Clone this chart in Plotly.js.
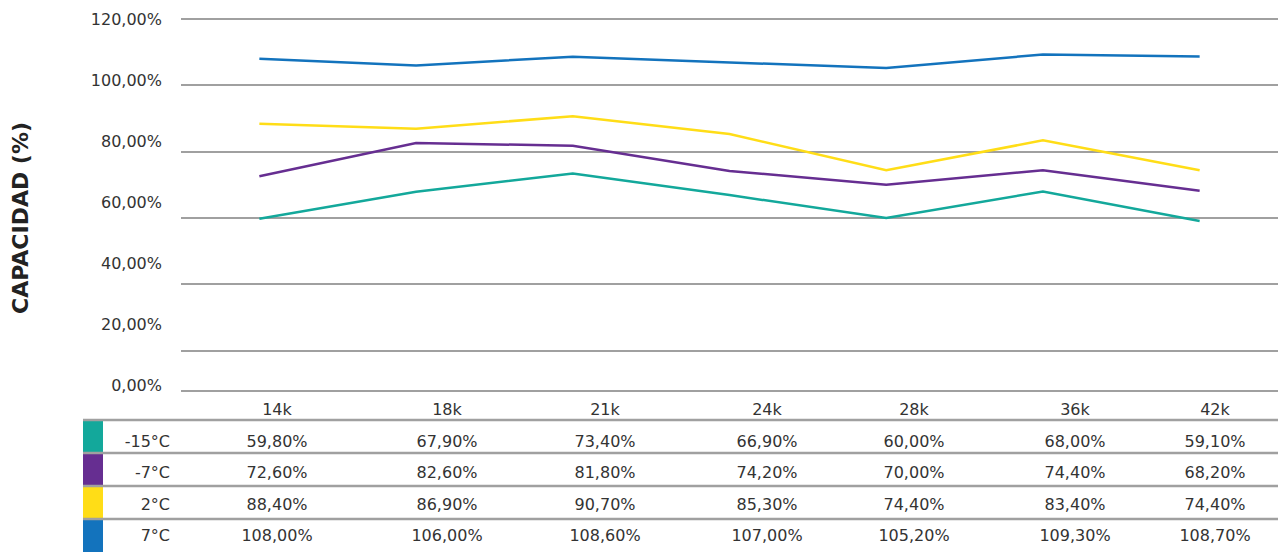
<!DOCTYPE html>
<html>
<head>
<meta charset="utf-8">
<script src="https://cdn.plot.ly/plotly-3.0.1.min.js"></script>
<style>
  html, body { margin: 0; padding: 0; background: #fff; }
  #chart { width: 1278px; height: 552px; }
</style>
</head>
<body>
<div id="chart"></div>
<script>
// chart data
var categories = ['14k', '18k', '21k', '24k', '28k', '36k', '42k'];
var seriesNames = ['-15°C', '-7°C', '2°C', '7°C'];
var seriesColors = ['#13a89b', '#662e91', '#ffdd17', '#1373bd'];
var valsM15 = [59.8, 67.9, 73.4, 66.9, 60.0, 68.0, 59.1];
var valsM7 = [72.6, 82.6, 81.8, 74.2, 70.0, 74.4, 68.2];
var vals2 = [88.4, 86.9, 90.7, 85.3, 74.4, 83.4, 74.4];
var vals7 = [108.0, 106.0, 108.6, 107.0, 105.2, 109.3, 108.7];
var yTicks = [0, 20, 40, 60, 80, 100, 120];

var allSeries = [valsM15, valsM7, vals2, vals7];

var W = 1278, H = 552;
var gridGray = '#a0a0a0';
var textColor = '#333333';
var fontFam = 'DejaVu Sans, Verdana, sans-serif';
var clear = 'rgba(0,0,0,0)';

function fmt(v) {
  return v.toFixed(2).replace('.', ',') + '%';
}

var data = [];
for (var i = 0; i < allSeries.length; i++) {
  data.push({
    x: categories,
    y: allSeries[i],
    type: 'scatter',
    mode: 'lines',
    name: seriesNames[i],
    line: { color: seriesColors[i], width: 2.5 },
    hoverinfo: 'x+y+name',
    xaxis: 'x',
    yaxis: 'y'
  });
}

// empty trace so the label axis exists
data.push({ x: [], y: [], type: 'scatter', mode: 'lines', yaxis: 'y2', showlegend: false, hoverinfo: 'skip' });

// data table under the plot: one table for header + colour keys, one for the text
var colWidths = [20, 75, 198, 142, 174, 150, 144, 178, 102];
var tLeft = 83, tRight = tLeft + colWidths.reduce(function (a, b) { return a + b; }, 0);
var keyTop = 395, keyHeadH = 25, keyRowH = 33;
var txtTop = 396, txtHeadH = 31, txtRowH = 31.25;

var headVals = ['', ''].concat(categories);
var blankHead = headVals.map(function () { return ''; });
var keyVals = [], keyFill = [], txtVals = [['', '', '', ''], seriesNames], txtAlign = ['center', 'right'];
for (var c = 0; c < headVals.length; c++) {
  keyVals.push(['', '', '', '']);
  keyFill.push(c === 0 ? seriesColors : ['white', 'white', 'white', 'white']);
}
for (var k = 0; k < categories.length; k++) {
  txtVals.push(allSeries.map(function (s) { return fmt(s[k]); }));
  txtAlign.push('center');
}

data.push({
  type: 'table',
  domain: { x: [tLeft / W, tRight / W], y: [0, 1 - keyTop / H] },
  columnwidth: colWidths,
  header: {
    values: headVals,
    height: keyHeadH,
    align: 'center',
    fill: { color: 'white' },
    line: { color: clear, width: 0 },
    font: { family: fontFam, size: 16, color: textColor }
  },
  cells: {
    values: keyVals,
    height: keyRowH,
    fill: { color: keyFill },
    line: { color: clear, width: 0 }
  },
  hoverinfo: 'skip'
});

data.push({
  type: 'table',
  domain: { x: [tLeft / W, tRight / W], y: [0, 1 - txtTop / H] },
  columnwidth: colWidths,
  header: {
    values: blankHead,
    height: txtHeadH,
    fill: { color: clear },
    line: { color: clear, width: 0 }
  },
  cells: {
    values: txtVals,
    height: txtRowH,
    align: txtAlign,
    fill: { color: clear },
    line: { color: clear, width: 0 },
    font: { family: fontFam, size: 16, color: textColor }
  },
  hoverinfo: 'skip'
});

// horizontal separators of the table
var shapes = [];
for (var r = 0; r < 4; r++) {
  var yy = keyTop + keyHeadH + r * keyRowH;
  shapes.push({
    type: 'line', xref: 'paper', yref: 'paper',
    x0: tLeft / W, x1: 1, y0: 1 - yy / H, y1: 1 - yy / H,
    line: { color: gridGray, width: 2.5 },
    layer: 'above'
  });
}

var plotTop = 17, plotBottom = 390;

var layout = {
  width: W,
  height: H,
  margin: { l: 0, r: 0, t: 0, b: 0 },
  paper_bgcolor: 'white',
  plot_bgcolor: 'white',
  showlegend: false,
  separators: ',.',
  font: { family: fontFam, color: textColor },
  xaxis: {
    type: 'category',
    domain: [181 / W, 1],
    range: [-0.5, 6.5],
    showticklabels: false,
    showgrid: false,
    zeroline: false,
    showline: true,
    linecolor: gridGray,
    linewidth: 2,
    fixedrange: true
  },
  yaxis: {
    domain: [1 - plotBottom / H, 1 - plotTop / H],
    range: [8.14, 120.6],
    tickvals: yTicks,
    showticklabels: false,
    showgrid: true,
    gridcolor: gridGray,
    gridwidth: 2,
    zeroline: false,
    fixedrange: true
  },
  yaxis2: {
    overlaying: 'y',
    side: 'left',
    anchor: 'x',
    range: [-1.64, 120.7],
    tickmode: 'array',
    tickvals: yTicks,
    ticktext: yTicks.map(fmt),
    ticks: '',
    ticklabelstandoff: 18,
    showgrid: false,
    zeroline: false,
    showline: false,
    tickfont: { family: fontFam, size: 16, color: textColor },
    fixedrange: true
  },
  shapes: shapes,
  annotations: [{
    text: '<b>CAPACIDAD (%)</b>',
    xref: 'paper', yref: 'paper',
    x: 20 / W, y: 1 - 218 / H,
    xanchor: 'center', yanchor: 'middle',
    textangle: -90,
    showarrow: false,
    font: { family: fontFam, size: 22, color: '#222222' }
  }]
};

Plotly.newPlot('chart', data, layout, { displayModeBar: false });
</script>
</body>
</html>
